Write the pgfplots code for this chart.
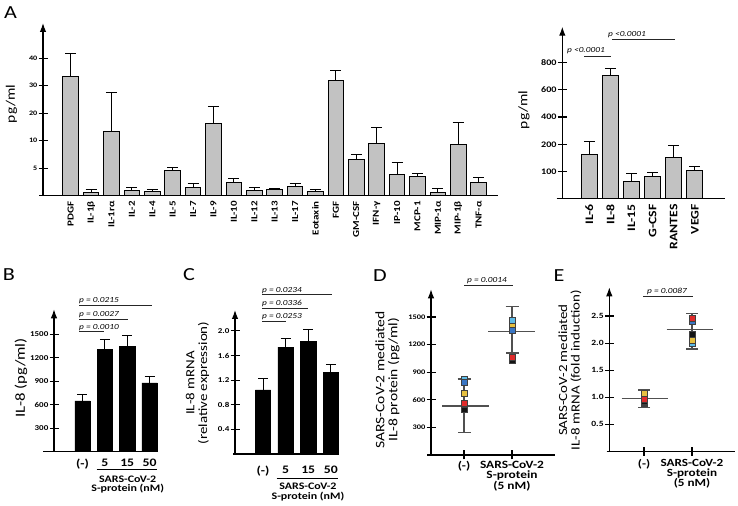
\documentclass[border=0pt]{standalone}
\usepackage{fontspec}
\setmainfont[FakeStretch=1.2]{Carlito}
\usepackage{pgfplots}
\pgfplotsset{compat=1.18}
\usepackage{pgfplotstable}
\usetikzlibrary{arrows.meta}

\definecolor{bargray}{HTML}{C2C2C2}
\definecolor{errgray}{HTML}{505050}
\definecolor{mkLB}{HTML}{5EBCE8}
\definecolor{mkB}{HTML}{3A76C4}
\definecolor{mkY}{HTML}{E6C040}
\definecolor{mkR}{HTML}{E02A2A}
\definecolor{mkK}{HTML}{141414}

\newcommand{\fs}[1]{\fontsize{#1}{#1}\selectfont}

\pgfplotsset{
  panel/.style={
    scale only axis, anchor=south west, enlargelimits=false, clip=false,
    axis x line*=bottom, axis y line*=left,
    axis line style={line width=1.2bp, black},
    y axis line style={-{Latex[length=9bp,width=6.5bp]}},
    tick align=center, major tick length=9bp,
    tick style={line width=1.1bp, black},
    ymin=0,
    /pgf/number format/assume math mode=true,
    yticklabel style={font=\bfseries\fs{7.5}, inner sep=1bp},
    xticklabel style={font=\bfseries\fs{11.5}},
  },
  panelbar/.style={panel, xtick style={draw=none}},
  ebar/.style={error bars/.cd, y dir=plus, y explicit,
    error bar style={line width=1bp, black},
    error mark options={rotate=90, mark size=#1, line width=1bp, black}},
  pmean/.style={error bars/.cd, y dir=both, y explicit,
    error bar style={line width=1.3bp, errgray},
    error mark options={rotate=90, mark size=#1, line width=1.3bp, errgray}},
  dot/.style={only marks, mark=square*, mark size=2.9bp,
    mark options={fill=#1, draw=black!75, line width=0.5bp}},
}

% Panel A (left): mean and top of error bar, pg/ml
\pgfplotstableread{
x y t
0 33.3 41.8
1 0.67 1.2
2 13.2 27.6
3 1.0 1.5
4 0.8 1.1
5 4.5 5.1
6 1.45 2.3
7 16.4 22.6
8 2.4 3.2
9 1.0 1.5
10 1.15 1.35
11 1.76 2.2
12 0.8 1.1
13 31.8 35.5
14 6.5 7.5
15 9.45 14.7
16 3.9 5.95
17 3.5 4.1
18 0.6 1.35
19 9.35 16.5
20 2.4 3.35
}\dataAL

% Panel A (right)
\pgfplotstableread{
x y t
0 163 222
1 707 759
2 62 92
3 82 97
4 152 195
5 102 118
}\dataAR

\pgfplotstableread{
x y e
0 650 75
1 1310 127
2 1344 148
3 880 80
}\dataB

\pgfplotstableread{
x y e
0 1.04 0.19
1 1.735 0.135
2 1.826 0.19
3 1.33 0.13
}\dataC

\pgfplotstableread{
x y ep em
0 533 293 287
1 1343 272 234
}\dataDm

\pgfplotstableread{
x y ep em
0 0.98 0.155 0.17
1 2.25 0.29 0.36
}\dataEm

\begin{document}
\begin{tikzpicture}[declare function={
  tA(\v)=ifthenelse(\v>10,2+(\v-10)/10,\v/5);
  tB(\v)=ifthenelse(\v>200,2+(\v-200)/200,\v/100);}]

% ---------------- Panel A left (broken scale: 0,5,10,20,30,40 evenly spaced)
\begin{axis}[panelbar, at={(43bp,310.3bp)}, width=455bp, height=172.7bp,
  xmin=-1.358, xmax=20.95, ymax=6.28,
  ytick={1,2,3,4,5}, yticklabels={5,10,20,30,40},
  yticklabel style={font=\bfseries\fs{6.8}},
  xtick={0,...,20},
  xticklabels={PDGF,IL-1β,IL-1rα,IL-2,IL-4,IL-5,IL-7,IL-9,IL-10,IL-12,IL-13,IL-17,Eotaxin,FGF,GM-CSF,IFN-γ,IP-10,MCP-1,MIP-1α,MIP-1β,TNF-α},
  xticklabel style={rotate=90, anchor=east, font=\bfseries\fs{9.2}, inner sep=1bp},
  x axis line style={shorten <=-4bp},
]
\addplot[ybar, bar width=15.5bp, fill=bargray, draw=black, line width=0.9bp, ebar=5.5bp]
  table[x=x, y expr={tA(\thisrow{y})}, y error expr={tA(\thisrow{t})-tA(\thisrow{y})}] {\dataAL};
\end{axis}

% ---------------- Panel A right (broken scale: 0,100,200,400,600,800 evenly spaced)
\begin{axis}[panelbar, at={(562.3bp,307.3bp)}, width=162.7bp, height=172bp,
  xmin=-1.28, xmax=6.43, ymax=6.32,
  ytick={1,2,3,4,5}, yticklabels={100,200,400,600,800},
  yticklabel style={font=\bfseries\fs{8.5}},
  xtick={0,...,5}, xticklabels={IL-6,IL-8,IL-15,G-CSF,RANTES,VEGF},
  xticklabel style={rotate=90, anchor=east, font=\bfseries\fs{11.5}, inner sep=1bp},
  x axis line style={shorten <=-5.6bp},
]
\addplot[ybar, bar width=16bp, fill=bargray, draw=black, line width=0.9bp, ebar=5.5bp]
  table[x=x, y expr={tB(\thisrow{y})}, y error expr={tB(\thisrow{t})-tB(\thisrow{y})}] {\dataAR};
\end{axis}

% ---------------- Panel B
\begin{axis}[panelbar, at={(54bp,54.3bp)}, width=103bp, height=142.4bp,
  xmin=-1.27, xmax=3.33, ymax=1821,
  ytick={300,600,900,1200,1500}, yticklabels={300,600,900,1200,1500},
  xtick={0,1,2,3}, xticklabels={(-),5,15,50},
  xticklabel style={yshift=1bp},
  x axis line style={shorten <=-11bp},
]
\addplot[ybar, bar width=15.3bp, fill=black, draw=black, ebar=5bp]
  table[x=x, y=y, y error=e] {\dataB};
\end{axis}

% ---------------- Panel C
\begin{axis}[panelbar, at={(235bp,52bp)}, width=103.3bp, height=144bp,
  xmin=-1.24, xmax=3.33, ymax=2.34,
  ytick={0.4,0.8,1.2,1.6,2.0}, yticklabels={0.4,0.8,1.2,1.6,2.0},
  xtick={0,1,2,3}, xticklabels={(-),5,15,50},
  xticklabel style={yshift=-4bp},
  x axis line style={shorten <=-2bp},
]
\addplot[ybar, bar width=15.3bp, fill=black, draw=black, ebar=5bp]
  table[x=x, y=y, y error=e] {\dataC};
\end{axis}

% ---------------- Panel D
\begin{axis}[panel, at={(431bp,51bp)}, width=124bp, height=165.7bp,
  xmin=-0.6875, xmax=1.896, ymax=1801,
  ytick={300,600,900,1200,1500}, yticklabels={300,600,900,1200,1500},
  yticklabel style={font=\bfseries\fs{7}},
  xtick={0,1}, xticklabels={(-),{SARS-CoV-2\\S-protein\\(5 nM)}},
  xticklabel style={align=center, anchor=north, yshift=1.5bp, font=\bfseries\fontsize{11.2}{9.8}\selectfont},
  x axis line style={shorten <=-4bp},
]
\addplot[draw=none, mark=none, pmean=6.5bp]
  table[x=x, y=y, y error plus=ep, y error minus=em] {\dataDm};
\addplot[line width=1.3bp, errgray] coordinates {(-0.45,533) (0.52,533)};
\addplot[line width=1.3bp, errgray] coordinates {(0.5,1343) (1.47,1343)};
\addplot[dot=mkK] coordinates {(0,492) (1,1025)};
\addplot[dot=mkY] coordinates {(0,674) (1,1409)};
\addplot[dot=mkLB] coordinates {(0,829) (1,1463)};
\addplot[dot=mkB] coordinates {(0,789) (1,1354)};
\addplot[dot=mkR] coordinates {(0,561) (1,1065)};
\end{axis}

% ---------------- Panel E
\begin{axis}[panel, at={(609.3bp,54.5bp)}, width=125.7bp, height=164.2bp,
  xmin=-0.723, xmax=1.896, ymax=3.03,
  ytick={0.5,1.0,1.5,2.0,2.5}, yticklabels={0.5,1.0,1.5,2.0,2.5},
  yticklabel style={font=\bfseries\fs{8}},
  xtick={0,1}, xticklabels={(-),{SARS-CoV-2\\S-protein\\(5 nM)}},
  xticklabel style={align=center, anchor=north, font=\bfseries\fontsize{11}{10}\selectfont},
  x axis line style={shorten <=-2.6bp},
]
\addplot[draw=none, mark=none, pmean=6bp]
  table[x=x, y=y, y error plus=ep, y error minus=em] {\dataEm};
\addplot[line width=1.3bp, errgray] coordinates {(-0.465,0.98) (0.505,0.98)};
\addplot[line width=1.3bp, errgray] coordinates {(0.473,2.25) (1.431,2.25)};
\addplot[dot=mkLB] coordinates {(0,0.88) (1,2.0)};
\addplot[dot=mkB] coordinates {(0,0.9) (1,2.41)};
\addplot[dot=mkK] coordinates {(0,0.93) (1,2.17)};
\addplot[dot=mkY] coordinates {(0,1.07) (1,2.06)};
\addplot[dot=mkR] coordinates {(0,0.97) (1,2.46)};
\end{axis}

% ---------------- annotations
\begin{scope}[x=1bp,y=1bp]
\tikzset{plab/.style={font=\fs{18.5}}, ylab/.style={rotate=90, align=center},
  pv/.style={font=\itshape\fs{7.8}, anchor=base west, inner sep=0pt},
  pl/.style={line width=0.8bp, black!85},
  grp/.style={font=\bfseries\fontsize{10}{9.5}\selectfont, align=center}}
\node[plab] at (10.5,506-12.5) {A};
\node[plab] at (9,506-275) {B};
\node[plab] at (189,506-275) {C};
\node[plab] at (380,506-276) {D};
\node[plab] at (559,506-276) {E};

\node[ylab, font=\fs{13}] at (11.5,506-104) {pg/ml};
\node[ylab, font=\fs{13}] at (524,506-110) {pg/ml};
\node[ylab, font=\fs{14}] at (21,506-378) {IL-8 (pg/ml)};
\node[ylab, font=\fontsize{12.5}{13}\selectfont] at (197.5,506-383) {IL-8 mRNA\\(relative expression)};
\node[ylab, font=\fontsize{13}{13}\selectfont] at (387.5,506-380) {SARS-CoV-2 mediated\\IL-8 protein (pg/ml)};
\node[ylab, font=\fontsize{12.5}{12.5}\selectfont] at (570,506-370) {SARS-CoV-2 mediated\\IL-8 mRNA (fold induction)};

% p values A
\node[pv] at (567,506-53) {p <0.0001};
\draw[pl] (584,506-56.7) -- (610.7,506-56.7);
\node[pv] at (608,506-36.7) {p <0.0001};
\draw[pl] (612,506-39.3) -- (675,506-39.3);
% p values B
\node[pv] at (79,506-303) {p = 0.0215};
\draw[pl] (79,506-305) -- (151.7,506-305);
\node[pv] at (79,506-316.8) {p = 0.0027};
\draw[pl] (79,506-319.3) -- (127.7,506-319.3);
\node[pv] at (79,506-329.5) {p = 0.0010};
\draw[pl] (79,506-331.7) -- (104.3,506-331.7);
% p values C
\node[pv] at (262,506-292.3) {p = 0.0234};
\draw[pl] (262,506-294.3) -- (331.7,506-294.3);
\node[pv] at (262,506-306) {p = 0.0336};
\draw[pl] (262,506-308.3) -- (308.3,506-308.3);
\node[pv] at (262,506-319) {p = 0.0253};
\draw[pl] (262,506-321) -- (286,506-321);
% p values D, E
\node[pv] at (467,506-283) {p = 0.0014};
\draw[pl] (464,506-285) -- (513.3,506-285);
\node[pv] at (647,506-293.5) {p = 0.0087};
\draw[pl] (643,506-296.7) -- (693,506-296.7);

% group labels B, C
\draw[line width=1bp] (96.7,506-470) -- (157.3,506-470);
\node[grp] at (127.7,506-484.7) {SARS-CoV-2\\S-protein (nM)};
\draw[line width=1bp] (276.7,506-478.3) -- (338.3,506-478.3);
\node[grp] at (308,506-492) {SARS-CoV-2\\S-protein (nM)};

\pgfresetboundingbox
\path[use as bounding box] (0,0) rectangle (738,506);
\end{scope}
\end{tikzpicture}
\end{document}
